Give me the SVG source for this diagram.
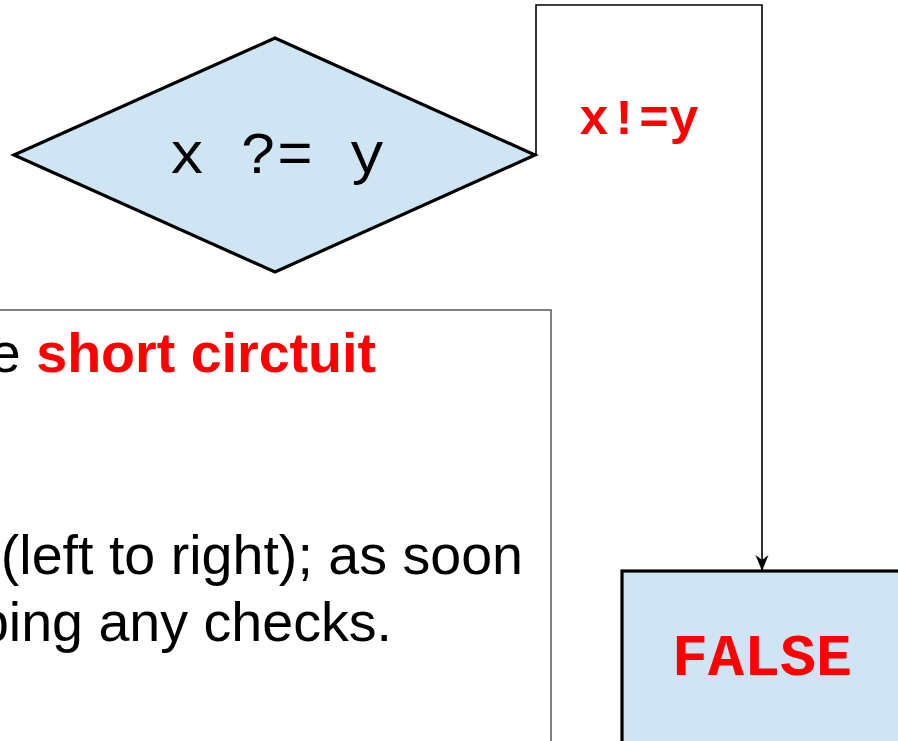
<svg xmlns="http://www.w3.org/2000/svg" width="898" height="741" viewBox="0 0 898 741">
<style>
.node{fill:#CFE5F3;stroke:#000;stroke-width:3.2;stroke-linejoin:miter}
.conn{fill:none;stroke:#000;stroke-width:1.6}
.mono{font-family:"Liberation Mono","DejaVu Sans Mono",monospace}
.sans{font-family:"Liberation Sans",Arial,sans-serif;font-size:55.6px}
.red{fill:#FF0000}
</style>
<defs>
<marker id="arr" markerUnits="userSpaceOnUse" markerWidth="18" markerHeight="16" viewBox="0 0 18 16" refX="17" refY="8" orient="auto">
<path d="M1,1.5 L17,8 L1,14.5 L6,8 Z" fill="#000"/>
</marker>
</defs>
<rect width="898" height="741" fill="#fff"/>
<g id="note">
<rect x="-20" y="310" width="571" height="460" fill="#fff" stroke="#555" stroke-width="1.5"/>
<text class="sans" x="376" y="372" text-anchor="end"><tspan fill="#000">e </tspan><tspan class="red" font-weight="bold">short circtuit</tspan></text>
<text class="sans" x="523" y="574" text-anchor="end">(left to right); as soon</text>
<text class="sans" x="392" y="641" text-anchor="end">ping any checks.</text>
</g>
<g id="connectors">
<path class="conn" d="M536,155 V5 H762 V571" marker-end="url(#arr)"/>
<text class="mono red" x="579" y="134" font-size="50" font-weight="bold">x!=y</text>
</g>
<g id="decision">
<polygon class="node" points="14,155 275,38 535,155 275,272"/>
<text class="mono" x="277" y="173" font-size="60" text-anchor="middle">x ?= y</text>
</g>
<g id="false">
<rect class="node" x="622" y="571" width="280" height="190"/>
<text class="mono red" x="762" y="675" font-size="60" font-weight="bold" text-anchor="middle">FALSE</text>
</g>
</svg>
